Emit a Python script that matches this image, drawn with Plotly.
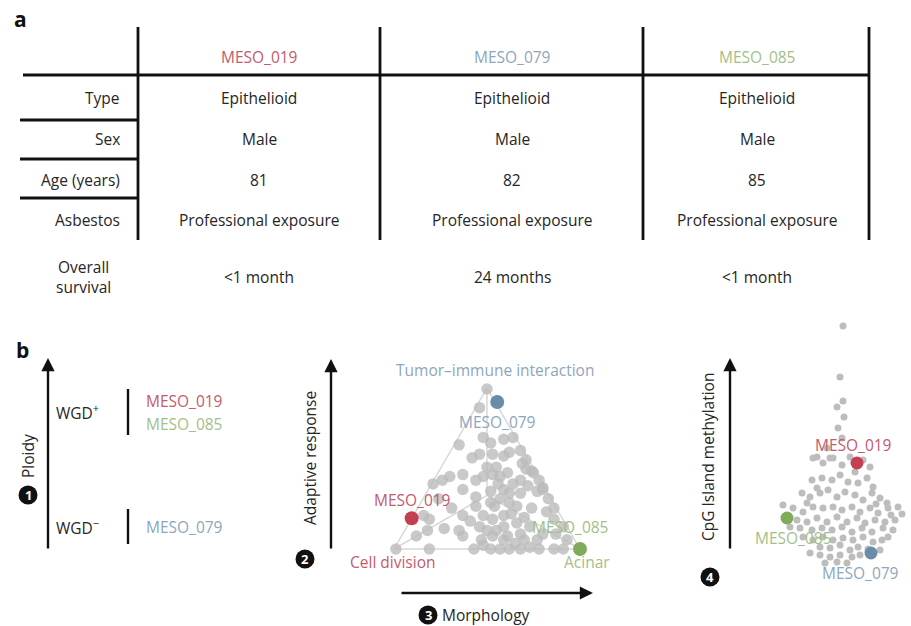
import plotly.graph_objects as go

W, H = 911, 626
FONT = "Open Sans"
TXT = "#262626"
INK = "#111111"

# ---------------- data ----------------
samples = ["MESO_019", "MESO_079", "MESO_085"]
dot_colors = ["#c43f52", "#6b8ca8", "#7eab5c"]
text_colors = ["#c45a6c", "#8ea6bd", "#a3bf88"]

row_labels = ["Type", "Sex", "Age (years)", "Asbestos", "Overall<br>survival"]
table_values = [
    ["Epithelioid", "Male", "81", "Professional exposure", "&lt;1 month"],
    ["Epithelioid", "Male", "82", "Professional exposure", "24 months"],
    ["Epithelioid", "Male", "85", "Professional exposure", "&lt;1 month"],
]

wgd_labels = ["WGD<sup>+</sup>", "WGD<sup>−</sup>"]
wgd_members = [["MESO_019", "MESO_085"], ["MESO_079"]]

# triangle (morphology vs adaptive response), arbitrary units
tri_x = [50, 46, 48, 59, 35, 64, 68, 42, 46, 53, 59, 62, 71, 74, 71, 55, 61, 53, 68, 75,
         78, 80, 30, 26, 21, 37, 44, 37, 52, 59, 62, 68, 77, 80, 83, 86, 31, 37, 44, 48,
         54, 59, 62, 66, 70, 16, 19, 18, 12, 27, 35, 37, 50, 53, 59, 61, 66, 68, 73, 80,
         86, 87, 91, 93, 1, 19, 43, 52, 57, 62, 68, 73, 78, 86, 91, 53, 46, 52, 57, 69,
         50, 48, 55, 47, 70, 77, 59, 44, 72, 52, 64, 56, 63, 74, 82, 57, 65, 48, 41, 24]
tri_y = [86, 76, 60, 59, 56, 60, 53, 49, 51, 51, 50, 52, 48, 42, 43, 44, 41, 40, 37, 41,
         37, 33, 39, 37, 35, 40, 37, 32, 31, 32, 30, 30, 31, 32, 27, 22, 22, 18, 23, 18,
         23, 18, 25, 23, 17, 18, 16, 10, 7, 11, 10, 7, 10, 7, 12, 7, 14, 8, 12, 8,
         16, 8, 12, 5, 0, 0, 0, 0, 0, 0, 0, 1, 0, 0, 0, 16, 12, 25, 39, 46,
         44, 39, 10, 5, 5, 5, 5, 28, 34, 57, 35, 35, 19, 22, 20, 27, 3, 2, 15, 27]
tri_hl_x = [9.5, 55.5, 100]
tri_hl_y = [16.5, 79, 0]

# swarm (CpG island methylation), arbitrary units
sw_x = [0, -3, 0, -6, 1, -5, -1, -16, -26, -13,
        -30, -20, -10, -1, 7, 20, 27,
        -31, -21, -11, -3, 5, 15, 24, 30, -26,
        -41, -33, -23, -15, -6, 2, 12, 20, 29, 37, 44, -36,
        -60, -50, -40, -30, -20, -10, -1, 9, 17, 27, 35, 45, 55,
        -46, -36, -26, -16, -6, 4, 14, 22, 32, 42, 52,
        -43, -31, -21, -11, -1, 9, 19, 29, 40, 50,
        -40, -30, -20, -10, 0, 10, 20, 30, 39, -23, -13, -3, 7, 15, 37,
        -33, -23, -13, -3, 9, 17, -18, -6, 4,
        59, 48, 25, -53, 45, 33, 12]
sw_y = [239, 188, 164, 158, 148, 137, 127, 117, 108, 107,
        107, 102, 107, 100, 108, 105, 98,
        85, 87, 85, 90, 83, 82, 87, 78, 77,
        72, 68, 72, 75, 68, 73, 70, 65, 72, 67, 62, 62,
        60, 57, 53, 58, 57, 58, 55, 58, 53, 57, 52, 57, 58,
        45, 43, 47, 43, 48, 43, 47, 42, 45, 43, 45,
        37, 35, 37, 35, 38, 33, 37, 33, 37, 35,
        28, 25, 28, 25, 27, 25, 28, 23, 25, 18, 17, 20, 15, 18, 15,
        12, 10, 8, 10, 8, 10, 2, 3, 2,
        51, 50, 16, 38, 28, 61, 93]
sw_hl_x = [14, 28, -56]
sw_hl_y = [102, 12, 47]

# ---------------- figure ----------------
fig = go.Figure()

# triangle scaffold
cx, cy = 50, 28.87
gx = [0, 100, 50, 0, None, cx, 0, None, cx, 100, None, cx, 50]
gy = [0, 0, 86.6, 0, None, cy, 0, None, cy, 0, None, cy, 86.6]
fig.add_trace(go.Scatter(x=gx, y=gy, mode="lines", line=dict(color="#d8d8d8", width=1.5),
                         hoverinfo="skip", xaxis="x", yaxis="y"))
fig.add_trace(go.Scatter(x=tri_x, y=tri_y, mode="markers",
                         marker=dict(size=11.5, color="rgba(188,188,188,0.8)", line=dict(width=0)),
                         xaxis="x", yaxis="y"))
fig.add_trace(go.Scatter(x=tri_hl_x, y=tri_hl_y, mode="markers",
                         marker=dict(size=14, color=dot_colors, line=dict(width=0)),
                         xaxis="x", yaxis="y"))

# swarm
fig.add_trace(go.Scatter(x=sw_x, y=sw_y, mode="markers",
                         marker=dict(size=7, color="#bdbdbd", line=dict(width=0)),
                         xaxis="x2", yaxis="y2"))
fig.add_trace(go.Scatter(x=sw_hl_x, y=sw_hl_y, mode="markers",
                         marker=dict(size=13, color=dot_colors, line=dict(width=0)),
                         xaxis="x2", yaxis="y2"))

# axes: triangle scale 1 unit = 1.86 px, origin at pixel (394, 549)
def tri_rx(px):
    return (px - 394) / 1.86

def tri_ry(py):
    return (549 - py) / 1.86

hid = dict(visible=False, showgrid=False, zeroline=False, fixedrange=True)
fig.update_layout(
    xaxis=dict(domain=[340 / W, 640 / W], range=[tri_rx(340), tri_rx(640)], **hid),
    yaxis=dict(domain=[1 - 600 / H, 1 - 360 / H], range=[tri_ry(600), tri_ry(360)], anchor="x", **hid),
    xaxis2=dict(domain=[760 / W, 1], range=[760 - 843, 911 - 843], anchor="y2", **hid),
    yaxis2=dict(domain=[1 - 600 / H, 1 - 300 / H], range=[565 - 600, 565 - 300], anchor="x2", **hid),
    xaxis3=dict(domain=[0, 1], range=[0, W], anchor="y3", **hid),
    yaxis3=dict(domain=[0, 1], range=[H, 0], anchor="x3", **hid),
)

shapes = []
ann = []

def line(x0, y0, x1, y1, w=2.6):
    shapes.append(dict(type="line", xref="x3", yref="y3", x0=x0, y0=y0, x1=x1, y1=y1,
                       line=dict(color=INK, width=w)))

def text(x, y, s, size=15.5, color=TXT, xanchor="center", ref=("x3", "y3"), **kw):
    ann.append(dict(x=x, y=y, xref=ref[0], yref=ref[1], text=s, showarrow=False,
                    xanchor=xanchor, yanchor="middle",
                    font=dict(family=FONT, size=size, color=color), **kw))

def arrow(x0, y0, x1, y1):
    ann.append(dict(x=x1, y=y1, ax=x0, ay=y0, xref="x3", yref="y3", axref="x3", ayref="y3",
                    text="", showarrow=True, arrowhead=2, arrowsize=1.1, arrowwidth=2.4,
                    arrowcolor=INK))

def badge(x, y, n):
    r = 9.5
    shapes.append(dict(type="circle", xref="x3", yref="y3", x0=x - r, x1=x + r, y0=y - r, y1=y + r,
                       fillcolor=INK, line=dict(width=0)))
    ann.append(dict(x=x, y=y, xref="x3", yref="y3", text="<b>%d</b>" % n, showarrow=False,
                    font=dict(family=FONT, size=13, color="white"), xanchor="center", yanchor="middle"))

# ---------- panel a: table ----------
text(20, 19, "<b>a</b>", size=21, color=INK)
col_x = [259, 512, 757]
row_y = [98, 139, 180, 220, 277]
for xv in [138, 380, 643, 869]:
    line(xv, 27, xv, 240, w=2.8)
line(23, 75, 869, 75, w=2.8)
for yv in [120, 159, 198]:
    line(20, yv, 138, yv, w=2.8)
for i, s in enumerate(samples):
    text(col_x[i], 57, s, color=text_colors[i])
for j, lab in enumerate(row_labels):
    if "<br>" in lab:
        text(83, row_y[j], lab, align="center")
    else:
        text(122, row_y[j], lab, xanchor="right")
for i, vals in enumerate(table_values):
    for j, v in enumerate(vals):
        text(col_x[i], row_y[j], v)

# ---------- panel b ----------
text(22, 350, "<b>b</b>", size=21, color=INK)

# ploidy
arrow(48, 550, 48, 358)
text(28, 456, "Ploidy", textangle=-90)
badge(28, 495, 1)
wgd_y = [(389, 435), (509, 544)]
name_color = dict(zip(samples, text_colors))
for g, lab in enumerate(wgd_labels):
    y0, y1 = wgd_y[g]
    line(128, y0, 128, y1, w=2.4)
    mid = (y0 + y1) / 2
    text(101, mid, lab, xanchor="right")
    mem = wgd_members[g]
    for k, m in enumerate(mem):
        yy = mid + (k - (len(mem) - 1) / 2) * 23
        text(144, yy, m, xanchor="left", color=name_color[m])

# triangle panel
arrow(331, 550, 331, 359)
text(310, 458, "Adaptive response", textangle=-90)
badge(305, 559, 2)
arrow(400, 593, 593, 593)
badge(428, 615, 3)
text(440, 615, "Morphology", xanchor="left")
tri_ref = ("x", "y")
text(tri_rx(495), tri_ry(370), "Tumor–immune interaction", color=text_colors[1], ref=tri_ref)
text(tri_rx(393), tri_ry(562), "Cell division", color=text_colors[0], ref=tri_ref)
text(tri_rx(587), tri_ry(562), "Acinar", color=text_colors[2], ref=tri_ref)
tri_lab_pos = [(412, 500), (497, 422), (570, 527)]
for i, s in enumerate(samples):
    px, py = tri_lab_pos[i]
    text(tri_rx(px), tri_ry(py), s, color=text_colors[i], ref=tri_ref)

# swarm panel
arrow(730, 550, 730, 358)
text(708, 457, "CpG Island methylation", textangle=-90)
badge(710, 577, 4)
sw_lab_pos = [(853, 445), (860, 573), (793, 538)]
for i, s in enumerate(samples):
    px, py = sw_lab_pos[i]
    text(px - 843, 565 - py, s, color=text_colors[i], ref=("x2", "y2"))

fig.update_layout(
    width=W, height=H, margin=dict(l=0, r=0, t=0, b=0),
    paper_bgcolor="white", plot_bgcolor="rgba(0,0,0,0)",
    showlegend=False, shapes=shapes, annotations=ann,
    font=dict(family=FONT, color=TXT),
)

fig.write_html("out.html", config={"displayModeBar": False},
               post_script="document.body.style.margin='0';document.body.style.overflow='hidden';")
